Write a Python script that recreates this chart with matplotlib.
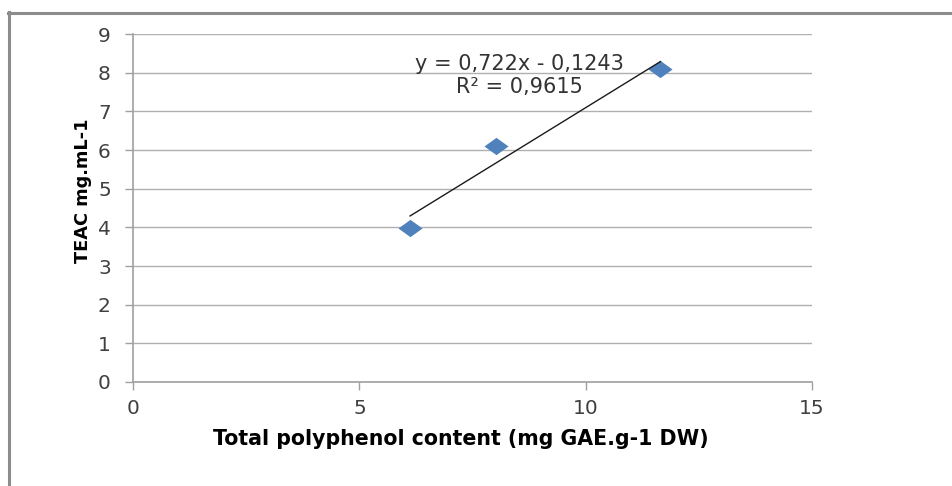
import numpy as np
import matplotlib.pyplot as plt
from matplotlib.lines import Line2D
from matplotlib.path import Path

# data
tpc = [6.12, 8.02, 11.65]      # Total polyphenol content
teac = [3.98, 6.10, 8.09]      # TEAC mg.mL-1
slope = 0.722
intercept = -0.1243
eq_text = "y = 0,722x - 0,1243"
r2_text = "R² = 0,9615"
xticks = [0, 5, 10, 15]
yticks = list(range(0, 10))

fig = plt.figure(figsize=(9.53, 4.86), dpi=100)
ax = fig.add_axes([0.1396, 0.214, 0.7125, 0.716])

# excel-style squashed diamond
diamond = Path([(-1, 0), (0, 0.72), (1, 0), (0, -0.72), (-1, 0)],
               [Path.MOVETO, Path.LINETO, Path.LINETO, Path.LINETO, Path.CLOSEPOLY])
ax.scatter(tpc, teac, marker=diamond, s=300, color='#4f81bd', zorder=3, linewidths=0)

xt = np.array([min(tpc), max(tpc)])
ax.plot(xt, slope * xt + intercept, color='#1a1a1a', lw=1.0, zorder=4)

ax.text(8.53, 8.22, eq_text, ha='center', va='center', fontsize=15,
        family='DejaVu Sans', color='#333333')
ax.text(8.53, 7.62, r2_text, ha='center', va='center', fontsize=15,
        family='DejaVu Sans', color='#333333')

ax.set_xlim(0, 15)
ax.set_ylim(0, 9)
ax.set_xticks(xticks)
ax.set_yticks(yticks)
ax.grid(axis='y', color='#b0b0b0', lw=1.0)
ax.set_axisbelow(True)
for s in ['top', 'right']:
    ax.spines[s].set_visible(False)
for s in ['left', 'bottom']:
    ax.spines[s].set_color('#a0a0a0')
    ax.spines[s].set_linewidth(1.2)
ax.tick_params(colors='#a0a0a0', length=6, width=1.0, labelcolor='#404040',
               labelsize=14.5)
ax.tick_params(axis='y', pad=10)
ax.tick_params(axis='x', pad=6)

ax.set_xlabel('Total polyphenol content (mg GAE.g-1 DW)', fontsize=14.8,
              family='DejaVu Sans', fontweight='bold')
ax.xaxis.set_label_coords(0.482, -0.135)
ax.set_ylabel('TEAC mg.mL-1', fontsize=12.8, family='Liberation Sans Narrow',
              fontweight='bold')
ax.yaxis.set_label_coords(-0.060, 0.55)

# frame border top and left
fig.add_artist(Line2D([0.008, 1.0], [0.974, 0.974], color='#8c8c8c', lw=2.2,
                      transform=fig.transFigure))
fig.add_artist(Line2D([0.0095, 0.0095], [0.975, 0.0], color='#8c8c8c', lw=2.2,
                      transform=fig.transFigure))

fig.savefig('out.png', dpi=100)
